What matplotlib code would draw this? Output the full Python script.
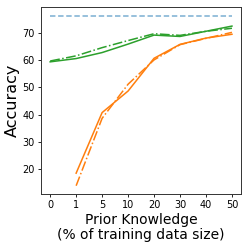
import matplotlib
matplotlib.use("Agg")
import matplotlib.pyplot as plt

x_labels = ["0", "1", "5", "10", "20", "30", "40", "50"]
baseline = [76.2] * 8
green_solid = [59.3, 60.5, 62.7, 65.8, 69.1, 68.6, 70.5, 72.4]
green_dashdot = [59.6, 61.5, 64.5, 67.1, 69.6, 69.0, 70.5, 71.6]
orange_x = ["1", "5", "10", "20", "30", "40", "50"]
orange_solid = [18.5, 40.7, 48.6, 60.6, 65.7, 68.0, 69.4]
orange_dashdot = [13.9, 38.6, 51.1, 60.0, 65.6, 67.9, 70.1]

fig = plt.figure(figsize=(2.49, 2.49), dpi=100)
ax = fig.add_axes([0.165, 0.22, 0.803, 0.751])

pos = list(range(len(x_labels)))
opos = [x_labels.index(v) for v in orange_x]

ax.plot(pos, baseline, color="#1f77b4", linestyle=(0, (3, 1.5)), alpha=0.5, linewidth=1.3)
ax.plot(pos, green_solid, color="#2ca02c", linestyle="-", linewidth=1.1)
ax.plot(pos, green_dashdot, color="#2ca02c", linestyle="-.", linewidth=1.1)
ax.plot(opos, orange_solid, color="#ff7f0e", linestyle="-", linewidth=1.1)
ax.plot(opos, orange_dashdot, color="#ff7f0e", linestyle="-.", linewidth=1.1)

ax.set_xticks(pos)
ax.set_xticklabels(x_labels)
ax.set_yticks([20, 30, 40, 50, 60, 70])
ax.tick_params(labelsize=7, length=2.5, width=0.6, pad=2)
ax.set_xlabel("Prior Knowledge\n(% of training data size)", fontsize=10, labelpad=2, linespacing=1.1)
ax.set_ylabel("Accuracy", fontsize=11.5, labelpad=2)
for s in ax.spines.values():
    s.set_linewidth(0.7)
    s.set_color("#333333")

fig.savefig("out.png", dpi=100)
